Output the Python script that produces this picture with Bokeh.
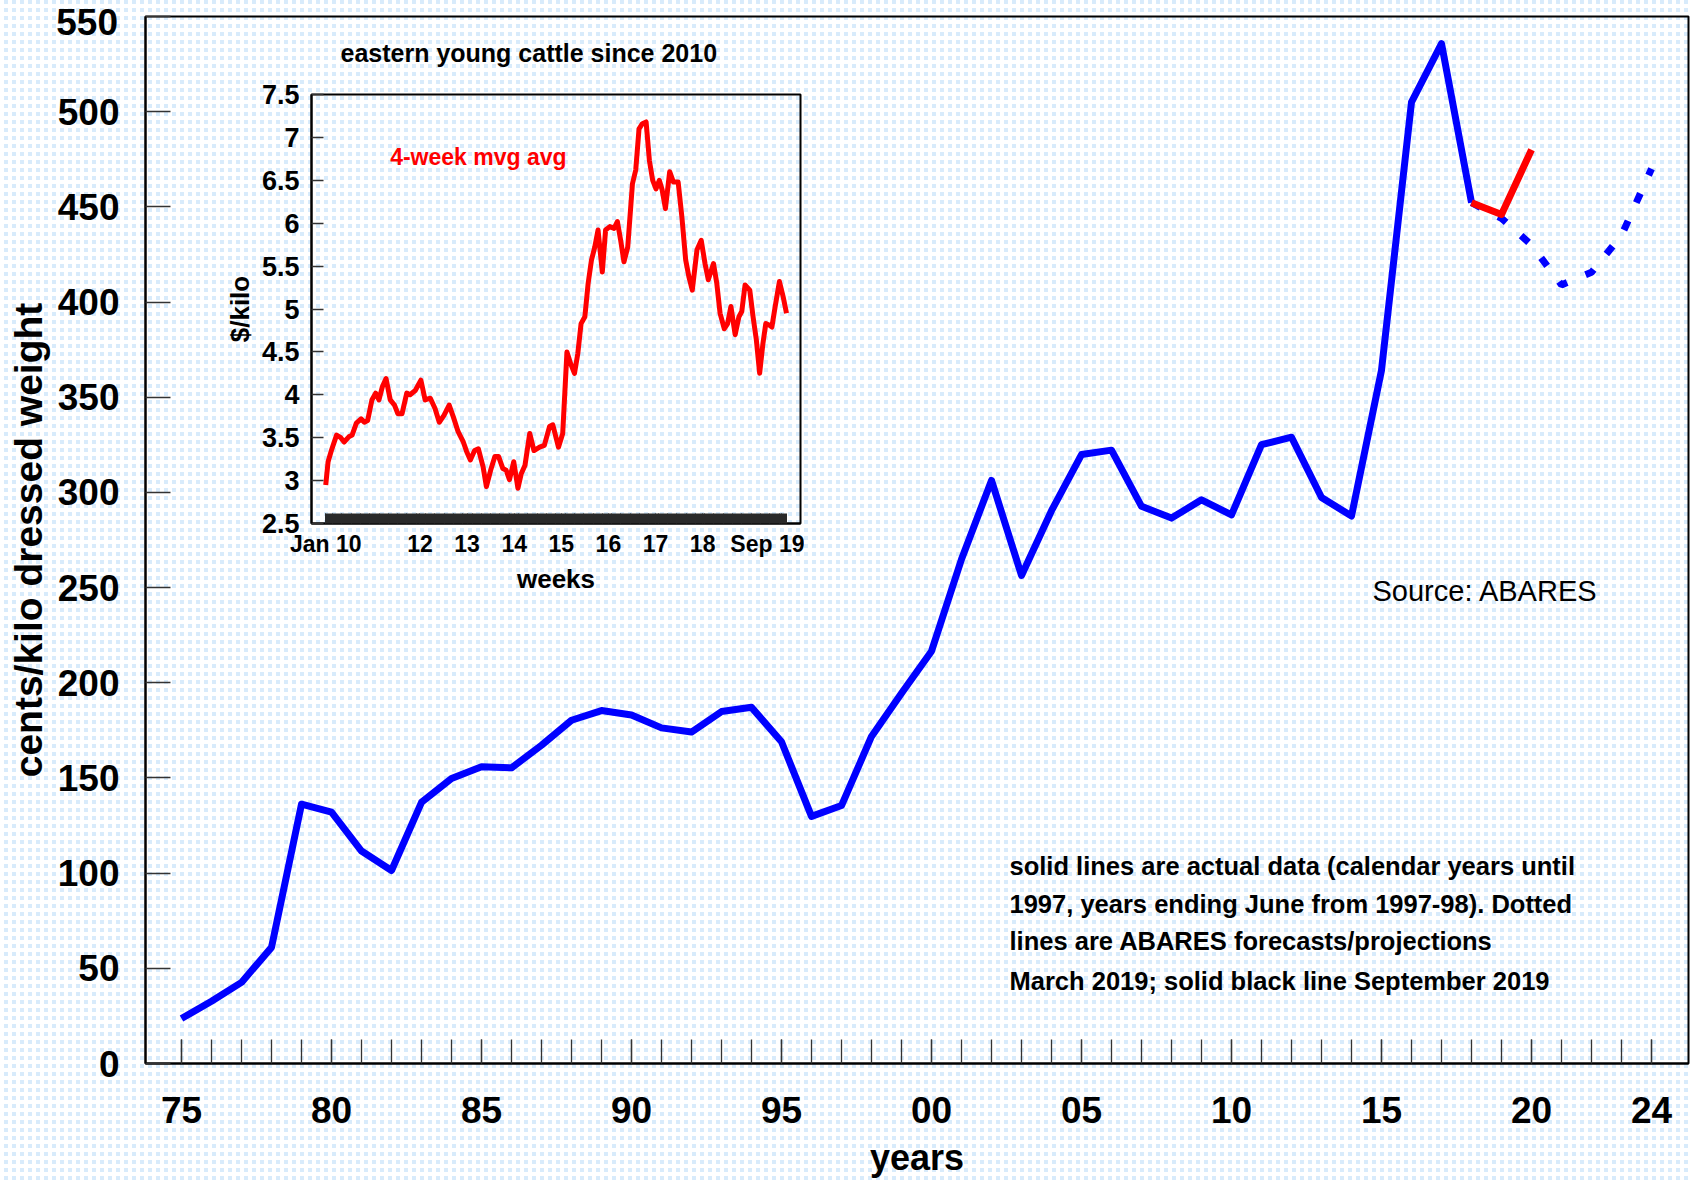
from bokeh.plotting import figure
from bokeh.models import Range1d, FixedTicker, ColumnDataSource, Label, Div
from bokeh.layouts import column
from bokeh.embed import file_html
from bokeh.resources import INLINE
from bokeh.core.properties import value
import numpy as np

FONT = "Liberation Sans"
BLUE = "#0000ff"
RED = "#ff0000"

# ---------------- main chart data ----------------
years_actual = list(range(1975, 2019))
cents_actual = [23.6, 32.7, 42.6, 61.0, 136.2, 132.0, 111.6, 101.4, 137.2, 149.7,
                155.9, 155.3, 167.2, 180.3, 185.4, 183.1, 176.3, 174.1, 184.9, 187.1,
                169.0, 129.8, 135.5, 171.8, 194.5, 216.6, 264.9, 306.3, 256.4, 290.4,
                319.9, 322.2, 292.7, 286.5, 296.1, 288.2, 325.1, 329.0, 297.3, 287.6,
                364.2, 505.0, 535.7, 452.2]
years_sep = [2018, 2019, 2020]
cents_sep = [452.2, 446.0, 480.0]
years_proj = [2018, 2019, 2020, 2021, 2022, 2023, 2024]
cents_proj = [452.2, 444.0, 430.0, 409.0, 415.6, 435.0, 470.0]

y_ticks = [0, 50, 100, 150, 200, 250, 300, 350, 400, 450, 500, 550]
y_labels = ["0", "50", "100", "150", "200", "250", "300", "350", "400", "450", "500", ""]
top_tick_label = "550"
x_label_years = [1975, 1980, 1985, 1990, 1995, 2000, 2005, 2010, 2015, 2020, 2024]
x_labels = ["75", "80", "85", "90", "95", "00", "05", "10", "15", "20", "24"]
x_minor_years = list(range(1975, 2025))

note_lines = ["solid lines are actual data (calendar years until",
              "1997, years ending June from 1997-98). Dotted",
              "lines are ABARES forecasts/projections",
              "March 2019; solid black line September 2019"]
note_y = [103.8, 84.0, 64.1, 43.6]
note_x = [2002.6, 2002.6, 2002.6, 2002.6]

# ---------------- inset data (4-week moving average, $/kilo) ----------------
inset_t = [2010.00, 2010.05, 2010.12, 2010.23, 2010.32, 2010.39, 2010.49, 2010.56, 2010.65, 2010.75,
           2010.82, 2010.89, 2010.98,
           2011.06, 2011.13, 2011.20, 2011.28, 2011.37, 2011.46, 2011.53, 2011.62, 2011.72, 2011.79, 2011.90,
           2012.02, 2012.11, 2012.22, 2012.32, 2012.41, 2012.51, 2012.62, 2012.71, 2012.81, 2012.92, 2012.99,
           2013.07, 2013.16, 2013.24, 2013.34, 2013.41, 2013.50, 2013.59, 2013.67, 2013.76, 2013.83, 2013.90, 2013.99,
           2014.08, 2014.15, 2014.23, 2014.33, 2014.42, 2014.54, 2014.64, 2014.75, 2014.82, 2014.94,
           2015.03, 2015.12, 2015.20, 2015.28, 2015.35, 2015.42, 2015.50, 2015.57, 2015.64, 2015.71, 2015.78, 2015.87, 2015.94,
           2016.03, 2016.12, 2016.19, 2016.26, 2016.33, 2016.41, 2016.51, 2016.58, 2016.65, 2016.72, 2016.80, 2016.87, 2016.94,
           2017.01, 2017.08, 2017.14, 2017.21, 2017.30, 2017.38, 2017.48, 2017.56, 2017.64, 2017.71, 2017.78, 2017.88, 2017.97,
           2018.05, 2018.12, 2018.23, 2018.30, 2018.37, 2018.46, 2018.53, 2018.60, 2018.69, 2018.77, 2018.83, 2018.90,
           2019.00, 2019.07, 2019.14, 2019.21, 2019.28, 2019.34, 2019.42, 2019.47, 2019.54, 2019.63, 2019.71, 2019.78]
inset_v = [2.95, 3.22, 3.35, 3.53, 3.50, 3.45, 3.51, 3.53, 3.67, 3.72, 3.68, 3.70, 3.94,
           4.02, 3.94, 4.09, 4.19, 3.94, 3.88, 3.78, 3.78, 4.02, 4.00, 4.05,
           4.17, 3.94, 3.96, 3.84, 3.68, 3.76, 3.88, 3.74, 3.57, 3.45, 3.34,
           3.24, 3.35, 3.37, 3.16, 2.93, 3.12, 3.28, 3.28, 3.14, 3.12, 3.01, 3.22,
           2.91, 3.08, 3.18, 3.55, 3.35, 3.39, 3.41, 3.63, 3.65, 3.39,
           3.55, 4.50, 4.36, 4.25, 4.48, 4.83, 4.91, 5.30, 5.57, 5.72, 5.92, 5.43, 5.92,
           5.96, 5.94, 6.02, 5.80, 5.55, 5.72, 6.46, 6.62, 7.10, 7.16, 7.18, 6.73, 6.50,
           6.40, 6.50, 6.39, 6.17, 6.60, 6.48, 6.48, 6.07, 5.57, 5.37, 5.22, 5.69, 5.80,
           5.53, 5.34, 5.53, 5.30, 4.95, 4.77, 4.83, 5.03, 4.70, 4.91, 4.97, 5.28,
           5.22, 4.91, 4.64, 4.25, 4.60, 4.83, 4.81, 4.79, 5.03, 5.32, 5.14, 4.95]

inset_y_ticks = [2.5, 3, 3.5, 4, 4.5, 5, 5.5, 6, 6.5, 7, 7.5]
inset_y_labels = ["2.5", "3", "3.5", "4", "4.5", "5", "5.5", "6", "6.5", "7", "7.5"]
inset_x_ticks = [2010.0, 2012.0, 2013.0, 2014.0, 2015.0, 2016.0, 2017.0, 2018.0, 2019.67]
inset_x_labels = ["Jan 10", "12", "13", "14", "15", "16", "17", "18", "Sep 19"]
inset_weeks = list(np.arange(2010.0, 2019.79, 7 / 365.25))

# ---------------- background pattern (light blue dots) ----------------
bg_styles = {
    "background-color": "#ffffff",
    "background-image": "linear-gradient(90deg, #ffffff 4px, transparent 4px), "
                        "linear-gradient(180deg, #d8ebfb 4px, transparent 4px)",
    "background-size": "8px 8px",
}

# ---------------- main figure ----------------
X0, X1 = 1973.8, 2025.233
p = figure(width=1692, height=1180,
           x_range=Range1d(X0, X1), y_range=Range1d(0, 550),
           output_backend="svg", toolbar_location=None,
           min_border_left=145, min_border_right=4, min_border_top=16, min_border_bottom=117,
           styles=bg_styles)
p.background_fill_alpha = 0
p.border_fill_alpha = 0
p.outline_line_color = "black"
p.outline_line_width = 2
p.grid.visible = False

xa = p.xaxis[0]
xa.ticker = FixedTicker(ticks=x_label_years, minor_ticks=x_minor_years)
xa.major_label_overrides = dict(zip(x_label_years, x_labels))
xa.major_tick_in = 24
xa.major_tick_out = 0
xa.minor_tick_in = 24
xa.minor_tick_out = 0
xa.major_tick_line_color = "#333333"
xa.minor_tick_line_color = "#333333"
xa.major_tick_line_width = 1.3
xa.minor_tick_line_width = 1.3
xa.axis_line_width = 2
xa.axis_line_color = "black"
xa.major_label_text_font = FONT
xa.major_label_text_font_size = "37px"
xa.major_label_text_font_style = "bold"
xa.major_label_text_color = "black"
xa.major_label_standoff = 33
xa.axis_label = "years"
xa.axis_label_text_font = FONT
xa.axis_label_text_font_size = "36px"
xa.axis_label_text_font_style = "bold"
xa.axis_label_text_color = "black"
xa.axis_label_standoff = 11

ya = p.yaxis[0]
ya.ticker = FixedTicker(ticks=y_ticks)
ya.major_label_overrides = dict(zip(y_ticks, y_labels))
ya.major_tick_in = 25
ya.major_tick_out = 0
ya.minor_tick_in = 0
ya.minor_tick_out = 0
ya.major_tick_line_color = "#333333"
ya.major_tick_line_width = 1.3
ya.axis_line_width = 2
ya.axis_line_color = "black"
ya.major_label_text_font = FONT
ya.major_label_text_font_size = "37px"
ya.major_label_text_font_style = "bold"
ya.major_label_text_color = "black"
ya.major_label_standoff = 26
ya.axis_label = "cents/kilo dressed weight"
ya.axis_label_text_font = FONT
ya.axis_label_text_font_size = "39px"
ya.axis_label_text_font_style = "bold"
ya.axis_label_text_color = "black"
ya.axis_label_standoff = 5

p.line(years_actual, cents_actual, line_color=BLUE, line_width=7, line_join="round")
p.line(years_proj, cents_proj, line_color=BLUE, line_width=7, line_dash="10 20")
p.line(years_sep, cents_sep, line_color=RED, line_width=7, line_join="round")

note_src = ColumnDataSource(dict(x=note_x, y=note_y, text=note_lines))
p.text(x="x", y="y", text="text", source=note_src, text_font=value(FONT),
       text_font_style="bold", text_font_size="25.5px", text_align="left",
       text_baseline="middle", text_color="black")

p.add_layout(Label(x=2014.7, y=248.0, text="Source: ABARES", text_font=FONT,
                   text_font_size="29px", text_font_style="normal", text_color="black",
                   text_align="left", text_baseline="middle"))

# top tick label ("550"), placed just under the page edge so it is not cut off
top_label = Div(text=top_tick_label, width=80, height=40,
                styles={"position": "absolute", "left": "33px", "top": "-1px",
                        "text-align": "right", "font-family": FONT, "font-weight": "bold",
                        "font-size": "37px", "line-height": "1", "color": "black"})

# ---------------- inset figure ----------------
inset = figure(width=638, height=592,
               x_range=Range1d(2009.698, 2020.077), y_range=Range1d(2.5, 7.5),
               output_backend="svg", toolbar_location=None,
               min_border_left=87, min_border_right=4, min_border_top=86, min_border_bottom=77,
               title="eastern young cattle since 2010",
               styles={"position": "absolute", "left": "166px", "top": "8px"})
inset.background_fill_alpha = 0
inset.border_fill_alpha = 0
inset.outline_line_color = "black"
inset.outline_line_width = 2
inset.grid.visible = False
inset.title.text_font = FONT
inset.title.text_font_size = "25px"
inset.title.text_font_style = "bold"
inset.title.text_color = "black"
inset.title.align = "left"
inset.title.offset = 29
inset.title.standoff = 56

ix = inset.xaxis[0]
ix.ticker = FixedTicker(ticks=inset_x_ticks, minor_ticks=inset_weeks)
ix.major_label_overrides = dict(zip(inset_x_ticks, inset_x_labels))
ix.major_tick_in = 10
ix.major_tick_out = 0
ix.minor_tick_in = 10
ix.minor_tick_out = 0
ix.major_tick_line_color = "#222222"
ix.minor_tick_line_color = "#2a2a2a"
ix.minor_tick_line_width = 1
ix.axis_line_width = 2
ix.axis_line_color = "black"
ix.major_label_text_font = FONT
ix.major_label_text_font_size = "23px"
ix.major_label_text_font_style = "bold"
ix.major_label_text_color = "black"
ix.major_label_standoff = 7
ix.axis_label = "weeks"
ix.axis_label_text_font = FONT
ix.axis_label_text_font_size = "26px"
ix.axis_label_text_font_style = "bold"
ix.axis_label_text_color = "black"
ix.axis_label_standoff = 4

iy = inset.yaxis[0]
iy.ticker = FixedTicker(ticks=inset_y_ticks)
iy.major_label_overrides = dict(zip(inset_y_ticks, inset_y_labels))
iy.major_tick_in = 12
iy.major_tick_out = 0
iy.minor_tick_in = 0
iy.minor_tick_out = 0
iy.major_tick_line_color = "#333333"
iy.major_tick_line_width = 1.3
iy.axis_line_width = 2
iy.axis_line_color = "black"
iy.major_label_text_font = FONT
iy.major_label_text_font_size = "27px"
iy.major_label_text_font_style = "bold"
iy.major_label_text_color = "black"
iy.major_label_standoff = 12
iy.axis_label = "$/kilo"
iy.axis_label_text_font = FONT
iy.axis_label_text_font_size = "26px"
iy.axis_label_text_font_style = "bold"
iy.axis_label_text_color = "black"
iy.axis_label_standoff = 4

inset.line(inset_t, inset_v, line_color=RED, line_width=5, line_join="round")
inset.add_layout(Label(x=2013.24, y=6.77, text="4-week mvg avg", text_font=FONT,
                       text_font_size="23px", text_font_style="bold", text_color=RED,
                       text_align="center", text_baseline="middle"))

layout = column(p, inset, top_label, width=1692, height=1180)
open("out.html", "w").write(file_html(layout, INLINE))
